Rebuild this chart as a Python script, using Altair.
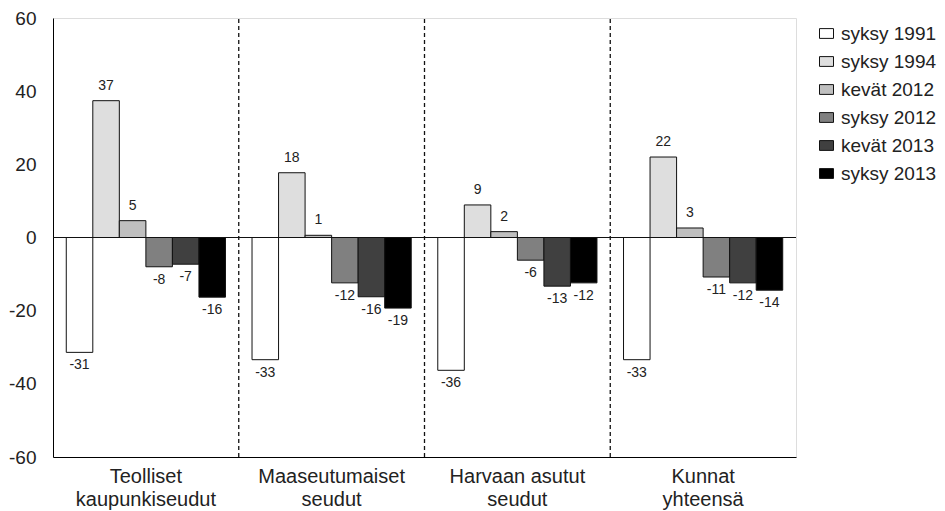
import altair as alt
import pandas as pd

categories = ["Teolliset kaupunkiseudut", "Maaseutumaiset seudut",
              "Harvaan asutut seudut", "Kunnat yhteensä"]
series = ["syksy 1991", "syksy 1994", "kevät 2012", "syksy 2012", "kevät 2013", "syksy 2013"]
colors = ["#ffffff", "#dedede", "#bfbfbf", "#808080", "#404040", "#000000"]

syksy_1991 = [-31.4, -33.4, -36.3, -33.4]
syksy_1994 = [37.4, 17.7, 8.9, 22.0]
kevat_2012 = [4.6, 0.6, 1.6, 2.6]
syksy_2012 = [-8.0, -12.4, -6.2, -10.8]
kevat_2013 = [-7.3, -16.2, -13.3, -12.4]
syksy_2013 = [-16.3, -19.3, -12.4, -14.4]
y_ticks = [-60, -40, -20, 0, 20, 40, 60]

values = [syksy_1991, syksy_1994, kevat_2012, syksy_2012, kevat_2013, syksy_2013]
rows = []
for s, vals in zip(series, values):
    for c, v in zip(categories, vals):
        rows.append({"cat": c, "series": s, "value": v})
df = pd.DataFrame(rows)
sep_df = pd.DataFrame({"cat": categories[1:]})

FONT = "Liberation Sans"
TXT = "#222222"

x_enc = alt.X("cat:N", sort=categories, title=None,
              scale=alt.Scale(paddingInner=0, paddingOuter=0),
              axis=alt.Axis(labelAngle=0, ticks=False, domainColor="#000",
                            labelFontSize=20, labelFont=FONT, labelColor=TXT,
                            labelPadding=9, labelLineHeight=23,
                            labelExpr="datum.label == 'Harvaan asutut seudut' ? ['Harvaan asutut', 'seudut'] : split(datum.label, ' ')"))
xo_enc = alt.XOffset("series:N", sort=series,
                     scale=alt.Scale(paddingOuter=0.5, paddingInner=0))
y_enc = alt.Y("value:Q", title=None,
              scale=alt.Scale(domain=[-60, 60], nice=False, zero=False),
              axis=alt.Axis(values=y_ticks, ticks=False, grid=False, domainColor="#000",
                            labelFontSize=19, labelFont=FONT, labelColor=TXT,
                            labelPadding=17, labelExpr="'' + datum.value"))

bars = alt.Chart(df).mark_bar(stroke="#111", strokeWidth=1).encode(
    x=x_enc, xOffset=xo_enc, y=y_enc,
    color=alt.Color("series:N", sort=series, title=None,
                    scale=alt.Scale(domain=series, range=colors),
                    legend=alt.Legend(orient="none", legendX=764, legendY=6,
                                      symbolType="M-1,-0.7H1V0.7H-1Z", symbolSize=196,
                                      symbolStrokeColor="#111", symbolStrokeWidth=1,
                                      labelFontSize=19, labelFont=FONT, labelColor=TXT,
                                      labelOffset=5, rowPadding=8, padding=0)),
)

zero = alt.Chart(df).mark_rule(color="#111", strokeWidth=1).encode(y=alt.datum(0))

seps = alt.Chart(sep_df).mark_rule(color="#111", strokeWidth=1.3, strokeDash=[4, 3]).encode(
    x=alt.X("cat:N", sort=categories, bandPosition=0),
    y=alt.datum(-60), y2=alt.datum(60),
)

labelled = alt.Chart(df).transform_calculate(label="'' + round(datum.value)")

pos_text = labelled.transform_filter("datum.value >= 0").mark_text(
    baseline="bottom", dy=-8, fontSize=14, font=FONT, color=TXT
).encode(x=alt.X("cat:N", sort=categories), xOffset=xo_enc, y="value:Q",
         text="label:N")

neg_text = labelled.transform_filter("datum.value < 0").mark_text(
    baseline="top", dy=6, fontSize=14, font=FONT, color=TXT
).encode(x=alt.X("cat:N", sort=categories), xOffset=xo_enc, y="value:Q",
         text="label:N")

chart = alt.layer(bars, seps, zero, pos_text, neg_text).properties(
    width=743, height=439,
    autosize=alt.AutoSizeParams(type="none"),
    padding={"left": 45, "top": 10, "right": 141, "bottom": 56},
).configure_view(stroke="#111", strokeWidth=1).configure(background="white")

chart.save("out.html", embed_options={"renderer": "svg", "actions": False})
